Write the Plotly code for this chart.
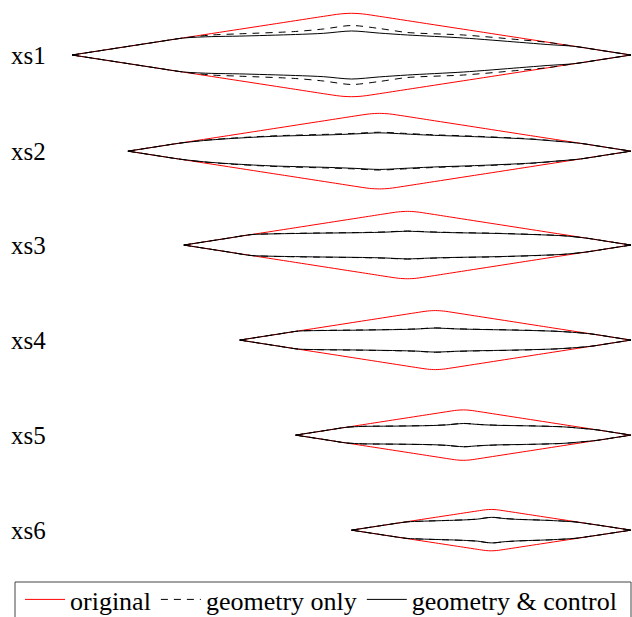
import plotly.graph_objects as go

# ---- data ----
sections = ["xs1", "xs2", "xs3", "xs4", "xs5", "xs6"]
le_x = [0.0, 0.1, 0.2, 0.3, 0.4, 0.5]          # leading-edge position
te_x = [1.0, 1.0, 1.0, 1.0, 1.0, 1.0]          # trailing-edge position
y_center = [0.0, -0.172, -0.340, -0.510, -0.680, -0.850]
red_half = [0.0746, 0.0676, 0.0603, 0.0528, 0.0451, 0.0370]  # max half-thickness of original

# original profile (chord fraction, fraction of max half-thickness)
red_s = [0, 0.1, 0.2, 0.3, 0.4, 0.45, 0.48, 0.5, 0.52, 0.55, 0.6, 0.7, 0.8, 0.9, 1.0]
red_frac = [0, 0.206, 0.412, 0.618, 0.824, 0.927, 0.985, 1.0, 0.985, 0.927, 0.824, 0.618, 0.412, 0.206, 0]

# optimised profiles (fraction of the original's max half-thickness)
black_s = [0, 0.05, 0.1, 0.15, 0.2, 0.25, 0.3, 0.4, 0.45, 0.5, 0.55, 0.6, 0.7, 0.8, 0.85, 0.9, 0.95, 1.0]
geom_only_frac = [
    [0, 0.103, 0.206, 0.309, 0.410, 0.48, 0.508, 0.564, 0.624, 0.707, 0.635, 0.54, 0.48, 0.367, 0.305, 0.206, 0.103, 0],
    [0, 0.103, 0.206, 0.285, 0.338, 0.378, 0.41, 0.447, 0.47, 0.50, 0.47, 0.437, 0.39, 0.325, 0.27, 0.206, 0.103, 0],
    [0, 0.103, 0.206, 0.309, 0.336, 0.348, 0.358, 0.374, 0.39, 0.416, 0.392, 0.373, 0.349, 0.307, 0.276, 0.206, 0.103, 0],
    [0, 0.103, 0.206, 0.306, 0.326, 0.334, 0.341, 0.361, 0.378, 0.412, 0.385, 0.368, 0.344, 0.306, 0.267, 0.206, 0.103, 0],
    [0, 0.103, 0.206, 0.309, 0.349, 0.356, 0.361, 0.381, 0.409, 0.464, 0.421, 0.393, 0.369, 0.329, 0.273, 0.206, 0.103, 0],
    [0, 0.103, 0.206, 0.309, 0.403, 0.433, 0.454, 0.497, 0.535, 0.622, 0.56, 0.521, 0.477, 0.40, 0.305, 0.206, 0.103, 0],
]
geom_ctrl_frac = [
    [0, 0.103, 0.206, 0.309, 0.408, 0.441, 0.453, 0.492, 0.52, 0.576, 0.525, 0.48, 0.408, 0.305, 0.252, 0.206, 0.103, 0],
    [0, 0.103, 0.206, 0.28, 0.33, 0.368, 0.397, 0.431, 0.455, 0.484, 0.455, 0.423, 0.378, 0.317, 0.265, 0.206, 0.103, 0],
    [0, 0.103, 0.206, 0.309, 0.332, 0.343, 0.353, 0.368, 0.383, 0.41, 0.386, 0.368, 0.344, 0.303, 0.273, 0.206, 0.103, 0],
    [0, 0.103, 0.206, 0.305, 0.322, 0.33, 0.336, 0.356, 0.373, 0.407, 0.38, 0.363, 0.339, 0.302, 0.264, 0.206, 0.103, 0],
    [0, 0.103, 0.206, 0.309, 0.345, 0.352, 0.357, 0.377, 0.405, 0.46, 0.417, 0.389, 0.365, 0.325, 0.27, 0.206, 0.103, 0],
    [0, 0.103, 0.206, 0.309, 0.40, 0.43, 0.45, 0.493, 0.531, 0.618, 0.556, 0.517, 0.473, 0.395, 0.305, 0.206, 0.103, 0],
]


def contour(s_list, frac_lists):
    xs, ys = [], []
    for i in range(len(sections)):
        fr = frac_lists[i] if isinstance(frac_lists[0], list) else frac_lists
        chord = te_x[i] - le_x[i]
        for sign in (1, -1):
            xs += [le_x[i] + s * chord for s in s_list] + [None]
            ys += [y_center[i] + sign * f * red_half[i] for f in fr] + [None]
    return xs, ys


fig = go.Figure()
x, y = contour(red_s, red_frac)
fig.add_trace(go.Scatter(x=x, y=y, mode="lines", name="original",
                         line=dict(color="#ff0000", width=1, shape="spline", smoothing=0.8)))
x, y = contour(black_s, geom_only_frac)
fig.add_trace(go.Scatter(x=x, y=y, mode="lines", name="geometry only",
                         line=dict(color="#000000", width=1, dash="7px,6px", shape="spline", smoothing=0.8)))
x, y = contour(black_s, geom_ctrl_frac)
fig.add_trace(go.Scatter(x=x, y=y, mode="lines", name="geometry & control",
                         line=dict(color="#000000", width=1, shape="spline", smoothing=0.8)))

for i, name in enumerate(sections):
    fig.add_annotation(x=-0.1127, y=y_center[i], text=name, showarrow=False,
                       xanchor="left", yanchor="middle",
                       font=dict(family="Liberation Serif", size=25, color="#000"))

# legend frame (bottom edge runs off the page as in the reference)
fig.add_shape(type="rect", xref="paper", yref="paper",
              x0=15 / 632, x1=631 / 632, y0=-5 / 617, y1=35 / 617,
              line=dict(color="#444", width=1), fillcolor="rgba(0,0,0,0)")

fig.update_layout(
    width=632, height=617,
    margin=dict(l=0, r=0, t=0, b=0, autoexpand=False),
    paper_bgcolor="white", plot_bgcolor="white",
    xaxis=dict(visible=False, range=[-0.1288, 1.0018], fixedrange=True),
    yaxis=dict(visible=False, range=[-1.0054, 0.0984], fixedrange=True),
    showlegend=True,
    legend=dict(orientation="h", x=20 / 632, xanchor="left", y=41 / 617, yanchor="top",
                font=dict(family="Liberation Serif", size=26, color="#000"),
                borderwidth=0, bgcolor="rgba(0,0,0,0)",
                itemwidth=40, tracegroupgap=0),
)

fig.write_html("out.html")
